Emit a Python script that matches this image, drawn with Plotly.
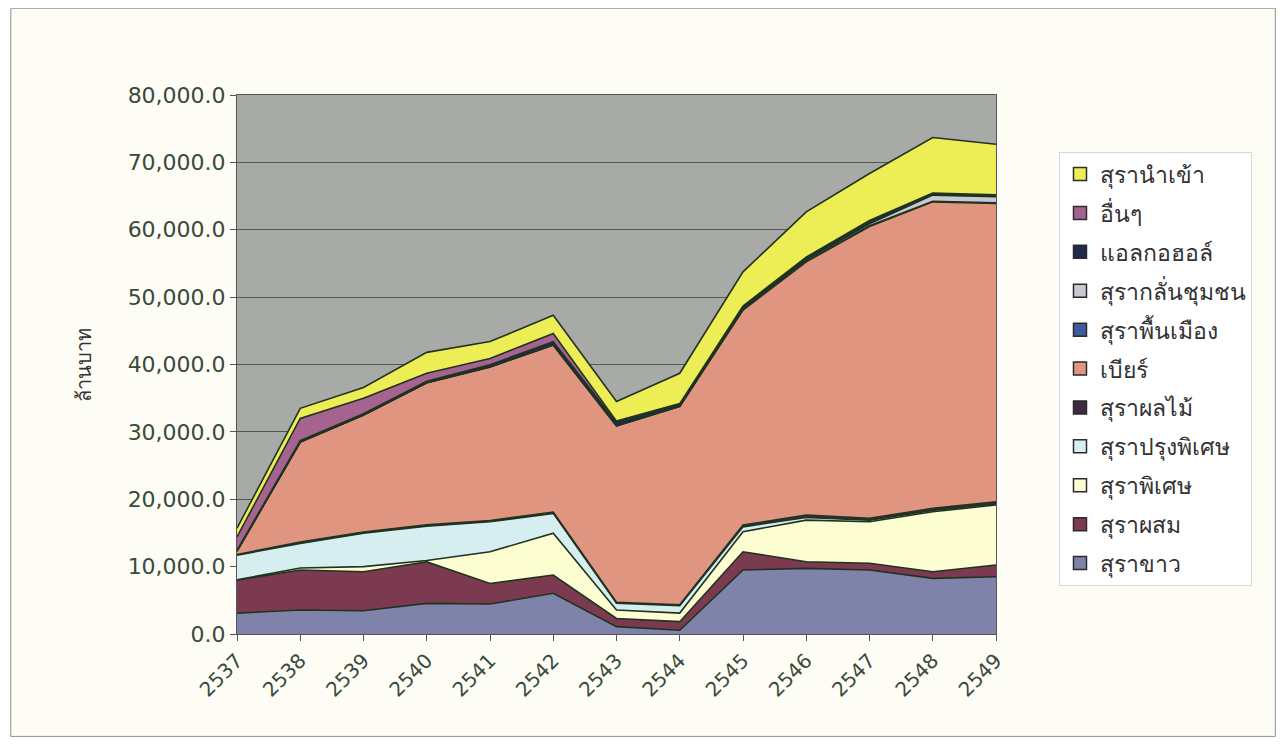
import plotly.graph_objects as go

years = [2537, 2538, 2539, 2540, 2541, 2542, 2543, 2544, 2545, 2546, 2547, 2548, 2549]
year_labels = [str(y) for y in years]

sura_khao = [3100, 3560, 3460, 4550, 4450, 6050, 1100, 550, 9500, 9740, 9500, 8260, 8500]
sura_phasom = [4900, 5940, 5790, 6150, 3050, 2700, 1200, 1280, 2700, 990, 990, 990, 1740]
sura_phiset = [50, 300, 750, 200, 4700, 6200, 1250, 1270, 2980, 6170, 6180, 8900, 8900]
sura_prung = [3650, 3650, 4950, 5100, 4450, 2950, 1000, 1100, 720, 400, 230, 200, 160]
sura_phonlamai = [100, 200, 200, 200, 200, 200, 150, 150, 270, 360, 260, 300, 330]
beer = [500, 14850, 17350, 21100, 22800, 24800, 26200, 29450, 31900, 37580, 43320, 45490, 44270]
sura_phuenmueang = [0, 0, 0, 0, 0, 0, 0, 0, 100, 100, 100, 100, 100]
sura_chumchon = [0, 0, 0, 0, 0, 0, 0, 0, 100, 200, 300, 900, 900]
alcohol = [100, 200, 200, 200, 300, 500, 500, 300, 300, 300, 400, 200, 200]
others = [2000, 3300, 2300, 1200, 950, 1200, 200, 100, 100, 100, 100, 100, 100]
imported = [1300, 1500, 1600, 3100, 2500, 2700, 2900, 4500, 5080, 6720, 6970, 8260, 7500]

series = [
    ("สุราขาว", sura_khao, "#8083a9"),
    ("สุราผสม", sura_phasom, "#7b3a50"),
    ("สุราพิเศษ", sura_phiset, "#fdfdd2"),
    ("สุราปรุงพิเศษ", sura_prung, "#d6eef0"),
    ("สุราผลไม้", sura_phonlamai, "#3b2a42"),
    ("เบียร์", beer, "#df957f"),
    ("สุราพื้นเมือง", sura_phuenmueang, "#3b5b9c"),
    ("สุรากลั่นชุมชน", sura_chumchon, "#c9c9d2"),
    ("แอลกอฮอล์", alcohol, "#1e2a4c"),
    ("อื่นๆ", others, "#a6638f"),
    ("สุรานำเข้า", imported, "#eded55"),
]

thai_font = "Tahoma, 'DejaVu Sans', 'Noto Sans', sans-serif"
num_font = "'DejaVu Sans', 'Liberation Sans', Arial, sans-serif"
edge = "#1f3320"

fig = go.Figure()
for name, vals, color in series:
    fig.add_trace(go.Scatter(
        x=years, y=vals, name=name, mode="lines",
        stackgroup="one", showlegend=False,
        line=dict(color=edge, width=1.6),
        fillcolor=color,
    ))

# legend entries (square swatches), top to bottom as in the reference
for i, (name, vals, color) in enumerate(reversed(series)):
    fig.add_trace(go.Scatter(
        x=[None], y=[None], name=name, mode="markers",
        legendgroup=f"g{i}", showlegend=True,
        marker=dict(symbol="square", size=13, color=color,
                    line=dict(color="#2a2a2a", width=1.5)),
    ))

fig.update_layout(
    width=1268, height=731,
    margin=dict(l=229, r=280, t=87, b=105),
    paper_bgcolor="#fdfdf6",
    plot_bgcolor="#a8aaa7",
    showlegend=True,
    legend=dict(
        x=1.083, y=0.895, xanchor="left", yanchor="top",
        traceorder="grouped", tracegroupgap=6,
        bgcolor="#ffffff", bordercolor="#d8d8d8", borderwidth=1,
        font=dict(family=thai_font, size=23, color="#333333"),
        itemwidth=30,
    ),
    font=dict(family=num_font, color="#3a3a3a"),
    shapes=[dict(type="rect", xref="paper", yref="paper",
                 x0=-0.298, x1=1.368, y0=-0.19, y1=1.161,
                 line=dict(color="#909090", width=1), fillcolor="rgba(0,0,0,0)",
                 layer="below")],
)

fig.update_xaxes(
    range=[2537, 2549], tickmode="array", tickvals=years, ticktext=year_labels,
    tickangle=-45, ticks="outside", ticklen=6, tickcolor="#555555",
    showgrid=False, showline=True, linecolor="#555555", linewidth=1, mirror=True,
    tickfont=dict(family=num_font, size=20, color="#3a4a3a"), zeroline=False,
)
fig.update_yaxes(
    range=[0, 80000], dtick=10000, tickformat=",.1f",
    ticks="outside", ticklen=6, tickcolor="#555555",
    showgrid=True, gridcolor="#4d5c4d", gridwidth=1,
    showline=True, linecolor="#555555", linewidth=1, mirror=True,
    tickfont=dict(family=num_font, size=22, color="#3a4a3a"), zeroline=False,
    title=dict(text="ล้านบาท", font=dict(family=thai_font, size=20, color="#333333"), standoff=30),
)

fig.write_html("out.html")
